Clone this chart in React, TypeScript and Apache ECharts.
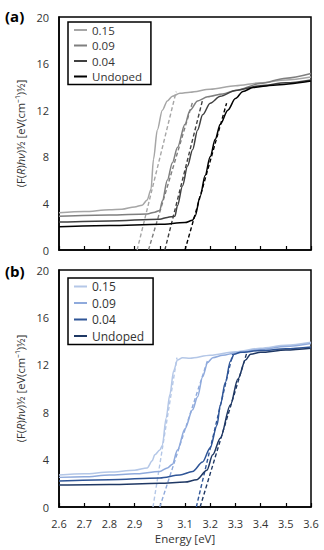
import React, { useEffect, useRef } from "react";
import * as echarts from "echarts";

// ---------- data ----------
const legendNames = ["0.15", "0.09", "0.04", "Undoped"];
const xTicks = ["2.6", "2.7", "2.8", "2.9", "3", "3.1", "3.2", "3.3", "3.4", "3.5", "3.6"];

// Panel (a)
const aE015 = [2.6, 2.7, 2.8, 2.85, 2.9, 2.93, 2.95, 2.965, 2.975, 2.99, 3.01, 3.03, 3.05, 3.08, 3.12, 3.2, 3.3, 3.4, 3.5, 3.6];
const aV015 = [3.2, 3.3, 3.45, 3.5, 3.7, 3.85, 4.3, 5.2, 7.8, 10.3, 12.0, 12.8, 13.2, 13.45, 13.55, 13.8, 14.1, 14.35, 14.6, 14.85];
const aE009 = [2.6, 2.8, 2.95, 2.98, 3.0, 3.01, 3.03, 3.05, 3.07, 3.1, 3.12, 3.15, 3.19, 3.25, 3.3, 3.4, 3.5, 3.6];
const aV009 = [2.9, 3.0, 3.1, 3.25, 3.4, 4.2, 6.0, 7.5, 8.8, 10.8, 12.0, 12.8, 13.15, 13.4, 13.7, 14.3, 14.75, 15.15];
const aE004 = [2.6, 2.8, 3.0, 3.03, 3.045, 3.06, 3.07, 3.09, 3.11, 3.13, 3.15, 3.17, 3.2, 3.24, 3.3, 3.4, 3.5, 3.6];
const aV004 = [2.4, 2.5, 2.65, 2.8, 2.85, 2.9, 3.8, 5.5, 7.2, 8.6, 10.3, 11.6, 12.6, 13.2, 13.7, 14.1, 14.35, 14.6];
const aEund = [2.6, 2.8, 3.0, 3.1, 3.13, 3.14, 3.16, 3.18, 3.2, 3.22, 3.24, 3.27, 3.3, 3.33, 3.37, 3.45, 3.6];
const aVund = [2.0, 2.1, 2.2, 2.35, 2.55, 2.9, 4.6, 6.4, 8.0, 9.5, 10.8, 12.0, 13.0, 13.6, 13.95, 14.15, 14.5];
// linear fits (x-intercept, end point)
const aFitE = [[2.91, 3.065], [2.955, 3.13], [3.02, 3.17], [3.1, 3.265]];
const aFitV = [[0, 13.6], [0, 12.7], [0, 12.9], [0, 12.6]];

// Panel (b)
const bE015 = [2.6, 2.7, 2.8, 2.9, 2.95, 2.97, 2.98, 3.0, 3.01, 3.025, 3.04, 3.055, 3.07, 3.09, 3.12, 3.2, 3.3, 3.4, 3.5, 3.6];
const bV015 = [2.7, 2.8, 2.95, 3.1, 3.3, 3.9, 4.4, 4.8, 5.2, 7.5, 9.5, 11.5, 12.4, 12.6, 12.55, 12.8, 13.1, 13.4, 13.65, 13.9];
const bE009 = [2.6, 2.7, 2.8, 2.9, 3.0, 3.03, 3.05, 3.07, 3.1, 3.13, 3.15, 3.17, 3.19, 3.21, 3.25, 3.3, 3.4, 3.5, 3.6];
const bV009 = [2.5, 2.55, 2.7, 2.8, 3.0, 3.3, 3.6, 4.8, 6.6, 8.2, 9.3, 11.0, 12.2, 12.6, 12.8, 13.0, 13.3, 13.55, 13.8];
const bE004 = [2.6, 2.8, 3.0, 3.08, 3.13, 3.17, 3.2, 3.227, 3.24, 3.26, 3.28, 3.295, 3.32, 3.4, 3.5, 3.6];
const bV004 = [2.2, 2.3, 2.45, 2.7, 3.0, 3.8, 5.0, 6.9, 8.6, 10.5, 12.3, 12.9, 13.05, 13.2, 13.35, 13.5];
const bEund = [2.6, 2.8, 3.0, 3.1, 3.146, 3.187, 3.21, 3.24, 3.28, 3.31, 3.34, 3.36, 3.4, 3.5, 3.6];
const bVund = [1.85, 1.9, 2.0, 2.1, 2.3, 3.1, 4.4, 5.8, 8.6, 10.8, 12.4, 12.9, 13.05, 13.25, 13.4];
const bFitE = [[2.973, 3.068], [3.0, 3.19], [3.145, 3.29], [3.16, 3.345]];
const bFitV = [[0, 12.6], [0, 12.4], [0, 13.0], [0, 13.0]];

const colorsA = ["#a6a6a6", "#7f7f7f", "#404040", "#000000"];
const colorsB = ["#b4c7e7", "#8faadc", "#2f5597", "#1f3864"];

// ---------- helpers ----------
const zip = (xs: number[], ys: number[]) => xs.map((x, i) => [x, ys[i]]);
const FONT = "'Open Sans', 'Noto Sans', sans-serif";

function buildOption() {
  const panels = [
    { key: "a", curves: [[aE015, aV015], [aE009, aV009], [aE004, aV004], [aEund, aVund]], fitE: aFitE, fitV: aFitV, colors: colorsA },
    { key: "b", curves: [[bE015, bV015], [bE009, bV009], [bE004, bV004], [bEund, bVund]], fitE: bFitE, fitV: bFitV, colors: colorsB },
  ];
  const series: any[] = [];
  panels.forEach((p, pi) => {
    p.curves.forEach((c, ci) => {
      series.push({
        type: "line",
        name: p.key + "-" + legendNames[ci],
        xAxisIndex: pi,
        yAxisIndex: pi,
        data: zip(c[0] as number[], c[1] as number[]),
        showSymbol: false,
        symbol: "none",
        smooth: 0.3,
        smoothMonotone: "x",
        color: p.colors[ci],
        lineStyle: { width: 1.5, color: p.colors[ci] },
        z: 3,
      });
      series.push({
        type: "line",
        name: p.key + "-fit-" + legendNames[ci],
        xAxisIndex: pi,
        yAxisIndex: pi,
        data: zip(p.fitE[ci], p.fitV[ci]),
        showSymbol: false,
        symbol: "none",
        color: p.colors[ci],
        lineStyle: { width: 1.4, color: p.colors[ci], type: [4, 2.5] },
        z: 2,
      });
    });
  });

  const yName = "(F({i|R}){i|hν})½ [eV(cm⁻¹)½]";
  const makeX = (gi: number, showLabels: boolean) => ({
    type: "value",
    gridIndex: gi,
    min: 2.6,
    max: 3.6,
    interval: 0.1,
    axisLine: { show: true, lineStyle: { color: "#000", width: 1.5 } },
    axisTick: { show: true, inside: true, length: 4, lineStyle: { color: "#000", width: 1.2 } },
    splitLine: { show: false },
    axisLabel: {
      show: showLabels,
      margin: 11,
      fontSize: 11,
      fontFamily: FONT,
      color: "#333",
      formatter: (v: number) => xTicks[Math.round((v - 2.6) * 10)] ?? "",
    },
    name: showLabels ? "Energy [eV]" : "",
    nameLocation: "middle",
    nameGap: 25,
    nameTextStyle: { fontSize: 11.5, fontFamily: FONT, color: "#333" },
  });
  const makeY = (gi: number) => ({
    type: "value",
    gridIndex: gi,
    min: 0,
    max: 20,
    interval: 4,
    axisLine: { show: true, lineStyle: { color: "#000", width: 1.5 } },
    axisTick: { show: false },
    splitLine: { show: false },
    axisLabel: { margin: 10, fontSize: 11, fontFamily: FONT, color: "#333" },
    name: yName,
    nameLocation: "middle",
    nameRotate: 90,
    nameGap: 21,
    nameTextStyle: {
      fontSize: 11.2,
      fontFamily: FONT,
      color: "#333",
      rich: { i: { fontStyle: "italic", fontSize: 11.2, fontFamily: FONT, color: "#333" } },
    },
  });

  const makeLegend = (key: string, top: number, gap: number, lh: number, fs: number) => ({
    orient: "vertical",
    left: 68,
    top,
    data: legendNames.map((n) => key + "-" + n),
    formatter: (name: string) => name.slice(2),
    icon: "rect",
    itemWidth: 13,
    itemHeight: 2,
    itemGap: gap,
    padding: [2, 9, 2, 6],
    borderColor: "#000",
    borderWidth: 1.5,
    backgroundColor: "#fff",
    textStyle: { fontSize: fs, fontFamily: FONT, color: "#333", lineHeight: lh },
    selectedMode: false,
  });

  return {
    animation: false,
    backgroundColor: "#fff",
    grid: [
      { left: 59, top: 17, width: 252, height: 233, show: true, borderColor: "#000", borderWidth: 1.5, backgroundColor: "transparent" },
      { left: 59, top: 270, width: 252, height: 237, show: true, borderColor: "#000", borderWidth: 1.5, backgroundColor: "transparent" },
    ],
    xAxis: [makeX(0, false), makeX(1, true)],
    yAxis: [makeY(0), makeY(1)],
    legend: [makeLegend("a", 22, 3.5, 12, 11.5), makeLegend("b", 278, 3.5, 13, 12)],
    graphic: [
      { type: "text", left: 5, top: 8, style: { text: "(a)", fontSize: 15, fontWeight: "bold", fontFamily: FONT, fill: "#000" } },
      { type: "text", left: 5, top: 263, style: { text: "(b)", fontSize: 15, fontWeight: "bold", fontFamily: FONT, fill: "#000" } },
    ],
    series,
  };
}

export default function App() {
  const ref = useRef<HTMLDivElement>(null);
  useEffect(() => {
    if (!ref.current) return;
    const chart = echarts.init(ref.current, undefined, { renderer: "svg" });
    chart.setOption(buildOption() as any);
    return () => chart.dispose();
  }, []);
  return (
    <div
      ref={ref}
      style={{ position: "absolute", left: 0, top: 0, width: 324, height: 550, background: "#fff" }}
    />
  );
}
